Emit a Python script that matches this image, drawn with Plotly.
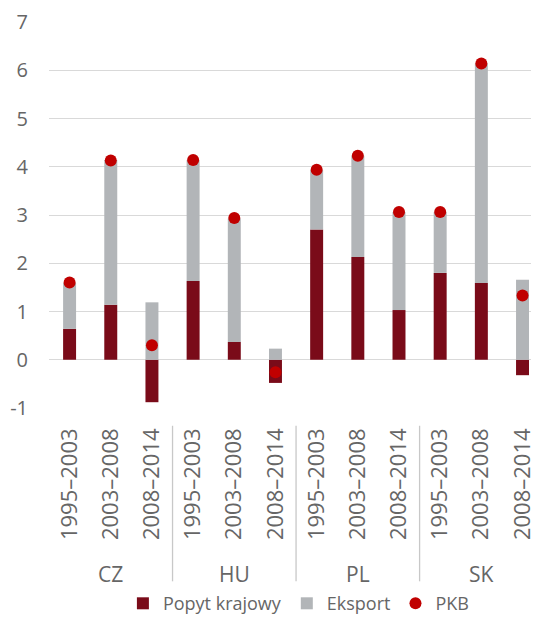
import plotly.graph_objects as go

# Dane
kraje = ["CZ", "HU", "PL", "SK"]
okresy = ["1995–2003", "2003–2008", "2008–2014"]
popyt_krajowy = [0.64, 1.14, -0.88, 1.63, 0.37, -0.48, 2.70, 2.13, 1.03, 1.80, 1.59, -0.32]
eksport = [0.95, 3.00, 1.19, 2.51, 2.56, 0.23, 1.23, 2.10, 2.03, 1.26, 4.55, 1.66]
pkb = [1.60, 4.13, 0.30, 4.14, 2.94, -0.26, 3.94, 4.23, 3.06, 3.06, 6.14, 1.33]
y_ticki = [-1, 0, 1, 2, 3, 4, 5, 6, 7]
y_etykiety = ["-1", "0", "1", "2", "3", "4", "5", "6", "7"]

# unikalne kategorie: kraj + okres
kategorie = [k + " " + o for k in kraje for o in okresy]
etykiety_okresow = [o for k in kraje for o in okresy]

czcionka = "Open Sans"
szary_tekst = "#666666"

fig = go.Figure()

fig.add_trace(go.Bar(
    x=kategorie, y=popyt_krajowy, name="Popyt krajowy",
    marker=dict(color="#7a0b19", line=dict(width=0))
))
fig.add_trace(go.Bar(
    x=kategorie, y=eksport, name="Eksport",
    marker=dict(color="#b2b5b8", line=dict(width=0))
))
fig.add_trace(go.Scatter(
    x=kategorie, y=pkb, name="PKB", mode="markers",
    marker=dict(color="#c00000", size=12)
))

# nazwy krajow pod etykietami okresow + linie oddzielajace grupy
n = len(okresy)
for i, k in enumerate(kraje):
    fig.add_annotation(
        x=i * n + (n - 1) / 2, y=-0.43, xref="x", yref="paper",
        text=k, showarrow=False,
        font=dict(family=czcionka, size=21, color=szary_tekst),
        yanchor="middle",
    )
    if i > 0:
        fig.add_shape(
            type="line", xref="x", yref="paper",
            x0=i * n - 0.5, x1=i * n - 0.5, y0=-0.046, y1=-0.449,
            line=dict(color="#c8c8c8", width=1.3),
        )

# strona ma 8 px marginesu, wiec figura 531x609
fig.update_layout(
    width=531, height=609,
    barmode="relative",
    bargap=0.685,
    plot_bgcolor="white",
    paper_bgcolor="white",
    font=dict(family=czcionka, size=19, color=szary_tekst),
    margin=dict(l=41, r=0, t=14, b=209),
    showlegend=True,
    legend=dict(
        orientation="h", x=0.51, xanchor="center",
        yref="container", y=0.022, yanchor="middle",
        font=dict(size=18, color=szary_tekst),
        itemwidth=30, tracegroupgap=0,
    ),
)

fig.update_yaxes(
    range=[-1, 7], tickvals=y_ticki, ticktext=y_etykiety,
    showgrid=True, gridcolor="#d9d9d9", gridwidth=1.3,
    zeroline=False,
    showline=False, ticks="",
    tickfont=dict(size=20, color=szary_tekst),
    ticklabelstandoff=20,
    automargin=False,
)
fig.update_xaxes(
    type="category",
    range=[-0.5, 11.4],
    tickvals=kategorie, ticktext=etykiety_okresow,
    tickangle=-90,
    showgrid=False, showline=False, ticks="",
    tickfont=dict(size=22, color=szary_tekst),
    ticklabelstandoff=15,
    automargin=False,
)

fig.write_html("out.html")
